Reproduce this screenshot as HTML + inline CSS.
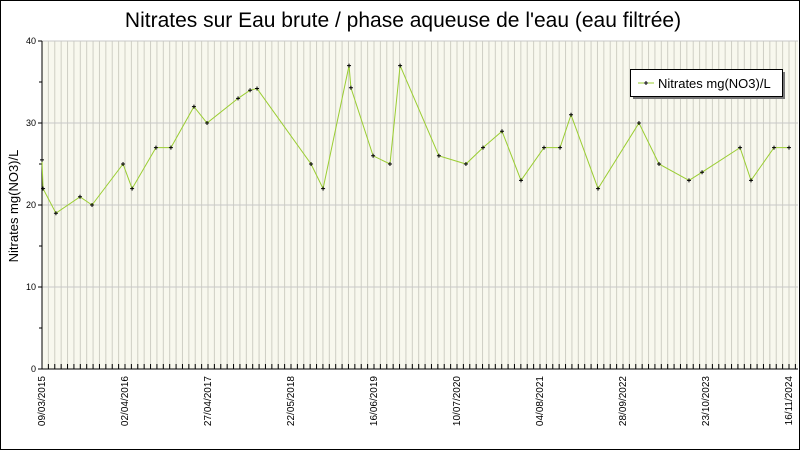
<!DOCTYPE html>
<html><head><meta charset="utf-8"><style>
body{margin:0;background:#fff}
svg{display:block;font-family:"Liberation Sans","DejaVu Sans",sans-serif}
</style></head><body>
<svg id="chart" width="800" height="450" viewBox="0 0 800 450">
<rect x="0.5" y="0.5" width="799" height="449" fill="#fff" stroke="#000"/>
<text x="403" y="27" text-anchor="middle" font-size="21" fill="#000">Nitrates sur Eau brute / phase aqueuse de l'eau (eau filtrée)</text>
<rect x="42" y="41" width="756" height="328" fill="#f8f8ee"/>
<g id="grid"></g><g id="axes"></g><g id="series"></g>
<text transform="translate(18,206) rotate(-90)" text-anchor="middle" font-size="13" fill="#000">Nitrates mg(NO3)/L</text>
<g>
<rect x="633" y="72" width="152" height="27" fill="#777"/>
<rect x="630.5" y="69.5" width="152" height="27" fill="#fff" stroke="#000"/>
<line x1="638" y1="83" x2="654" y2="83" stroke="#9acd32"/>
<path d="M644,83h4M646,81v4" stroke="#000"/>
<text x="658" y="88" font-size="13">Nitrates mg(NO3)/L</text>
</g>
</svg>
<script>
const dates=["2015-03-09","2015-03-14","2015-05-14","2015-09-05","2015-11-01","2016-03-27","2016-05-09","2016-08-30","2016-11-09","2017-02-26","2017-04-29","2017-09-23","2017-11-19","2017-12-22","2018-09-04","2018-10-31","2019-03-03","2019-03-12","2019-06-25","2019-09-13","2019-10-31","2020-05-02","2020-09-07","2020-11-27","2021-02-25","2021-05-26","2021-09-12","2021-11-27","2022-01-18","2022-05-26","2022-12-06","2023-03-11","2023-07-31","2023-10-01","2024-03-29","2024-05-20","2024-09-06","2024-11-16"];
const values=[25.5,22,19,21,20,25,22,27,27,32,30,33,34,34.2,25,22,37,34.3,26,25,37,26,25,27,29,23,27,27,31,22,30,25,23,24,27,23,27,27];
const xTickLabels=["09/03/2015","02/04/2016","27/04/2017","22/05/2018","16/06/2019","10/07/2020","04/08/2021","28/09/2022","23/10/2023","16/11/2024"];
const yTicks=[0,10,20,30,40];
const NS="http://www.w3.org/2000/svg";
const d0=Date.UTC(2015,2,9), d1=Date.UTC(2024,10,16);
const X0=42,X1=789,Y0=369,Y1=41;
function tx(s){const p=s.split("-");const t=Date.UTC(+p[0],+p[1]-1,+p[2]);return X0+(t-d0)/(d1-d0)*(X1-X0);}
function ty(v){return Y0-(v/40)*(Y0-Y1);}
function mk(tag,a,par){const e=document.createElementNS(NS,tag);for(const k in a)e.setAttribute(k,a[k]);par.appendChild(e);return e;}
const grid=document.getElementById("grid"),axes=document.getElementById("axes"),ser=document.getElementById("series");
const step=(X1-X0)/117;
for(let x=X0+step;x<798;x+=step){const l=mk("line",{x1:x,y1:Y1,x2:x,y2:Y0,stroke:"#cfcfc4","stroke-width":1},grid);


const t=mk("line",{x1:x,y1:Y0,x2:x,y2:Y0-5,stroke:"#000"},axes);

}
yTicks.forEach(v=>{const y=ty(v);
if(v>0){const g=mk("line",{x1:X0,y1:y,x2:798,y2:y,stroke:"#c8c8c8"},grid);

}
const t=mk("text",{x:36,y:y+3,"text-anchor":"end","font-size":9},axes);t.textContent=v;


mk("line",{x1:X0-4,y1:y,x2:X0,y2:y,stroke:"#000"},axes);
if(v<40){const m=mk("line",{x1:X0-3,y1:ty(v+5),x2:X0,y2:ty(v+5),stroke:"#000"},axes);

}
});
mk("line",{x1:X0,y1:Y1,x2:X0,y2:Y0,stroke:"#000"},axes);
mk("line",{x1:X0,y1:Y0,x2:798,y2:Y0,stroke:"#000"},axes);
xTickLabels.forEach((s,i)=>{const x=X0+i*(X1-X0)/(xTickLabels.length-1);
const t=mk("text",{transform:`translate(${x+3},376) rotate(-90)`,"text-anchor":"end","font-size":10},axes);t.textContent=s;

});
const pts=dates.map((d,i)=>[tx(d),ty(values[i])]);
const line=mk("polyline",{points:pts.map(p=>p.join(",")).join(" "),fill:"none",stroke:"#9acd32","stroke-width":1},ser);


pts.forEach(p=>{const m=mk("path",{d:`M${p[0]-2},${p[1]}h4M${p[0]},${p[1]-2}v4`,stroke:"#000","stroke-width":1},ser);

});
</script>
</body></html>
